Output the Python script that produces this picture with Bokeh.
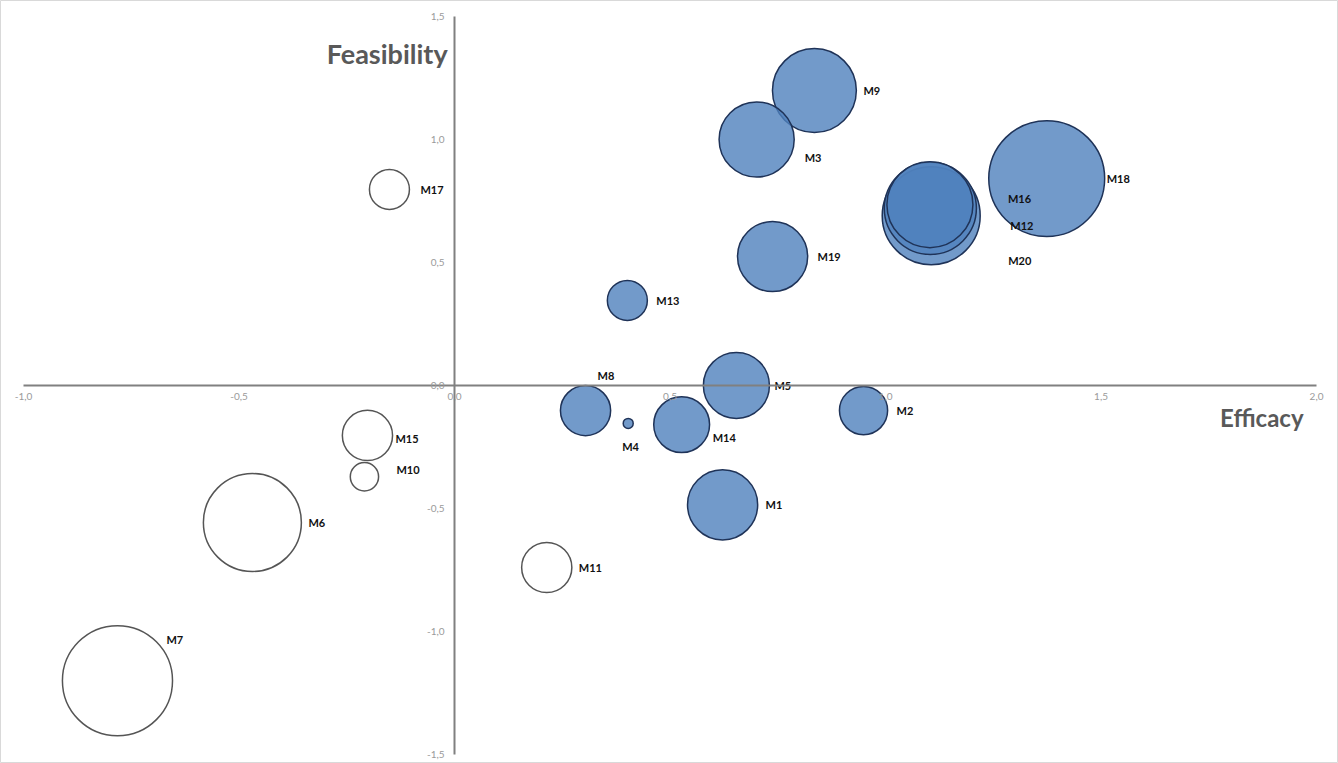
from bokeh.plotting import figure
from bokeh.models import ColumnDataSource, Range1d, LinearAxis, FixedTicker, Label
from bokeh.core.properties import value
from bokeh.embed import file_html
from bokeh.resources import INLINE
import numpy as np

# ---- data ----
labels = ["M1", "M2", "M3", "M4", "M5", "M6", "M7", "M8", "M9", "M10",
          "M11", "M12", "M13", "M14", "M15", "M16", "M17", "M18", "M19", "M20"]
efficacy = [0.622, 0.949, 0.701, 0.403, 0.654, -0.469, -0.782, 0.304, 0.835, -0.209,
            0.214, 1.104, 0.401, 0.527, -0.202, 1.103, -0.151, 1.374, 0.738, 1.106]
feasibility = [-0.485, -0.102, 1.0, -0.154, 0.0, -0.557, -1.2, -0.102, 1.199, -0.371,
               -0.74, 0.72, 0.346, -0.159, -0.203, 0.735, 0.797, 0.841, 0.524, 0.69]
bubble = [12.3, 5.8, 14.1, 0.25, 10.9, 24.0, 30.3, 6.3, 17.6, 2.0,
          6.3, 21.2, 4.0, 7.8, 6.3, 18.5, 4.0, 33.6, 12.3, 24.0]
open_items = ["M6", "M7", "M10", "M11", "M15", "M17"]

x_ticks = [-1.0, -0.5, 0.0, 0.5, 1.0, 1.5, 2.0]
x_tick_labels = ["-1,0", "-0,5", "0,0", "0,5", "1,0", "1,5", "2,0"]
y_ticks = [-1.5, -1.0, -0.5, 0.0, 0.5, 1.0, 1.5]
y_tick_labels = ["-1,5", "-1,0", "-0,5", "0,0", "0,5", "1,0", "1,5"]

x_title = "Efficacy"
y_title = "Feasibility"

# ---- label placement (screen px offsets, positive dy = down) ----
label_offsets = {
    "M1": (43, 0), "M2": (33, 0), "M3": (48, 18), "M4": (-6, 23), "M5": (38, 0),
    "M6": (56, 0), "M7": (49, -41), "M8": (12, -35), "M9": (49, 0), "M10": (32, -7),
    "M11": (32, 0), "M12": (80, 17), "M13": (29, 0), "M14": (31, 13), "M15": (28, 3),
    "M16": (78, -6), "M17": (31, 0), "M18": (60, 0), "M19": (45, 0), "M20": (77, 45),
}

diam = [20 * np.sqrt(b) for b in bubble]
is_open = [l in open_items for l in labels]
order = sorted(range(len(labels)), key=lambda i: -bubble[i])

src = ColumnDataSource(dict(
    x=[efficacy[i] for i in order],
    y=[feasibility[i] for i in order],
    d=[diam[i] for i in order],
    fill=["#ffffff" if is_open[i] else "#4F81BD" for i in order],
    alpha=[1.0 if is_open[i] else 0.8 for i in order],
    line=["#555555" if is_open[i] else "#1f3358" for i in order],
))

lab_src = ColumnDataSource(dict(
    x=efficacy, y=feasibility, text=labels,
    dx=[label_offsets[l][0] for l in labels],
    dy=[label_offsets[l][1] for l in labels],
))

W, H = 1338, 763
p = figure(width=W, height=H, output_backend="svg", toolbar_location=None,
           x_range=Range1d(-1.0534, 2.0510), y_range=Range1d(-1.5366, 1.5650),
           x_axis_location=None, y_axis_location=None,
           min_border=0, min_border_left=0, min_border_right=0,
           min_border_top=0, min_border_bottom=0)
p.xgrid.visible = False
p.ygrid.visible = False
p.outline_line_color = "#d9d9d9"
p.outline_line_width = 1
p.background_fill_color = "white"
p.border_fill_color = "white"

xa = LinearAxis(fixed_location=0, bounds=(-1.0, 2.0),
                ticker=FixedTicker(ticks=x_ticks),
                major_label_overrides=dict(zip(x_ticks, x_tick_labels)))
ya = LinearAxis(fixed_location=0, bounds=(-1.5, 1.5),
                ticker=FixedTicker(ticks=y_ticks),
                major_label_overrides=dict(zip(y_ticks, y_tick_labels)))
for ax in (xa, ya):
    ax.axis_line_color = "#808080"
    ax.axis_line_width = 2
    ax.major_tick_out = 0
    ax.major_tick_in = 0
    ax.minor_tick_out = 0
    ax.minor_tick_in = 0
    ax.major_label_text_font = "Lato"
    ax.major_label_text_font_size = "10px"
    ax.major_label_text_color = "#9a9a9a"
xa.major_label_standoff = 8
ya.major_label_standoff = 10
p.add_layout(xa, "below")
p.add_layout(ya, "left")

p.scatter("x", "y", size="d", source=src, fill_color="fill", fill_alpha="alpha",
          line_color="line", line_width=1.5)

p.text("x", "y", text="text", x_offset="dx", y_offset="dy", source=lab_src,
       text_font=value("Lato"), text_font_style="bold", text_font_size="11px",
       text_color="#111111", text_align="left", text_baseline="middle")

p.add_layout(Label(x=-0.016, y=1.35, text=y_title, text_align="right",
                   text_baseline="middle", text_font="Lato", text_font_style="bold",
                   text_font_size="27px", text_color="#595959"))
p.add_layout(Label(x=1.97, y=-0.13, text=x_title, text_align="right",
                   text_baseline="middle", text_font="Lato", text_font_style="bold",
                   text_font_size="24px", text_color="#595959"))

open("out.html", "w").write(file_html(p, INLINE))
